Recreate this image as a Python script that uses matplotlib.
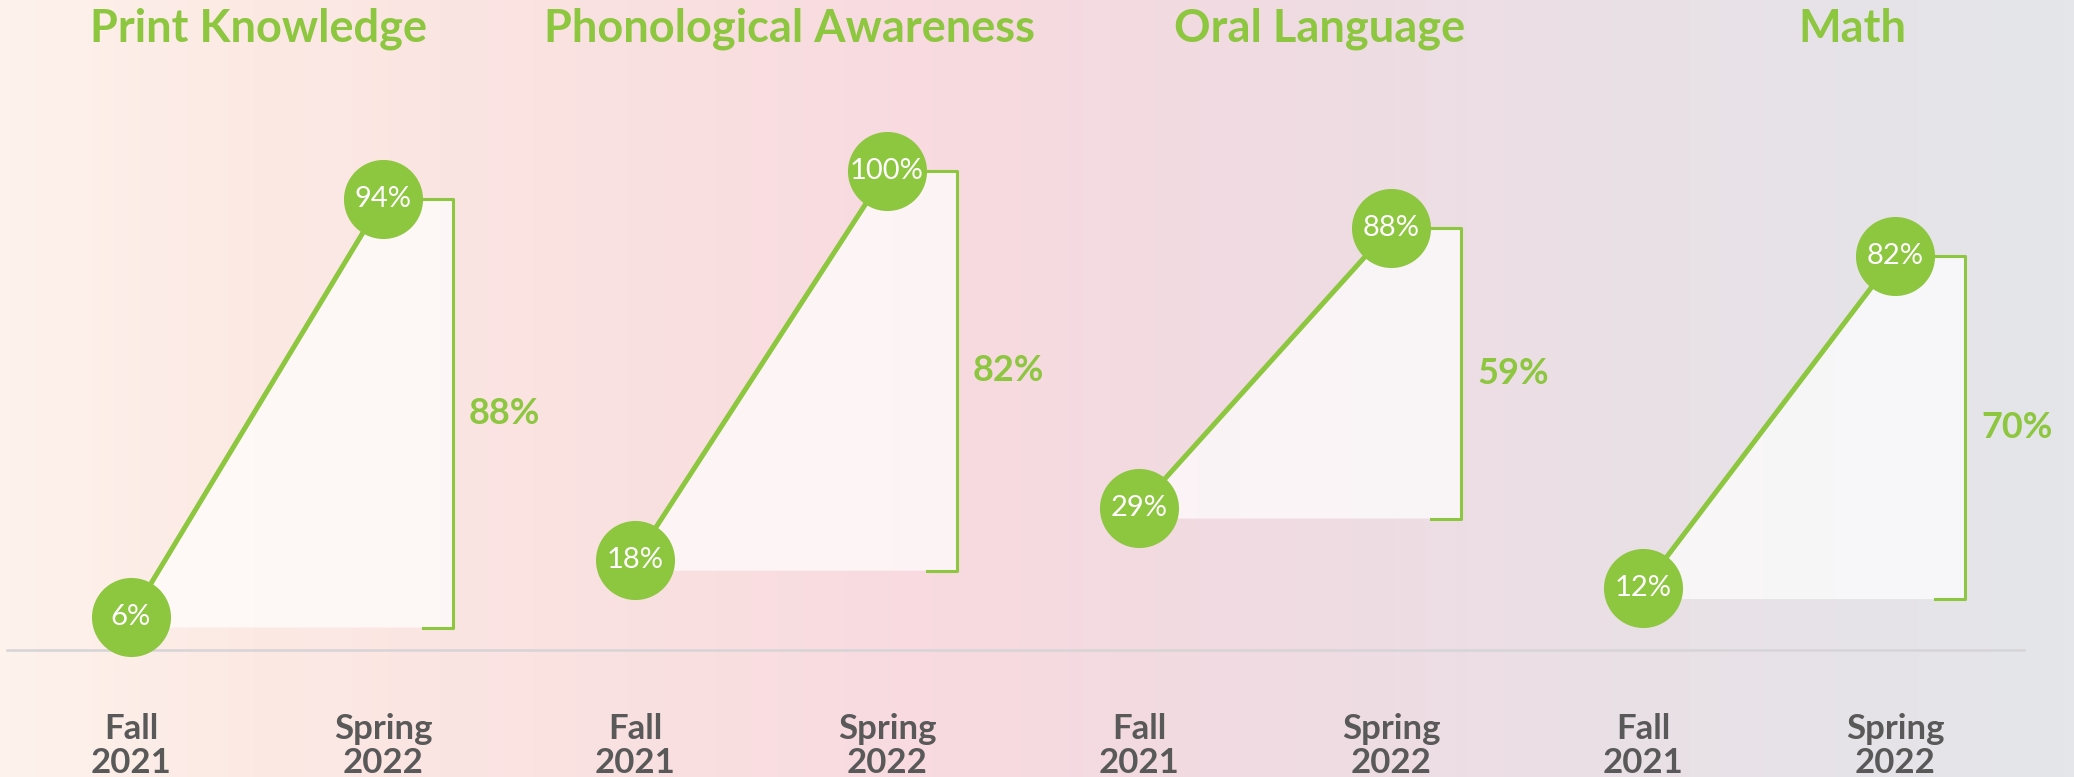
import matplotlib
matplotlib.use("Agg")
import matplotlib.pyplot as plt
import numpy as np
from matplotlib.colors import LinearSegmentedColormap

# data
subjects = ["Print Knowledge", "Phonological Awareness", "Oral Language", "Math"]
fall_2021 = [6, 18, 29, 12]
spring_2022 = [94, 100, 88, 82]
gains = [88, 82, 59, 70]
period_labels = ["Fall\n2021", "Spring\n2022"]

GREEN = "#8DC63F"
GRAY_TEXT = "#595959"
FONT = "Lato"

W, H, DPI = 2074, 777, 100
PX_PER_UNIT = 252.0   # horizontal px per x unit
PX_PER_PCT = 4.74     # vertical px per percent
X0_PX = 131           # px of first Fall point
Y0_PX = 645           # px (from top) of 0%

fig = plt.figure(figsize=(W / DPI, H / DPI), dpi=DPI)
ax = fig.add_axes([0, 0, 1, 1])
xmin, xmax = -X0_PX / PX_PER_UNIT, (W - X0_PX) / PX_PER_UNIT
ymin, ymax = -(H - Y0_PX) / PX_PER_PCT, Y0_PX / PX_PER_PCT
ax.set_xlim(xmin, xmax)
ax.set_ylim(ymin, ymax)
ax.axis("off")

# background gradient
bg = LinearSegmentedColormap.from_list("bg", [
    (0.00, "#FEF2EC"), (0.12, "#FCE9E4"), (0.30, "#FAE1E1"),
    (0.45, "#F8DAE0"), (0.60, "#F1DBE2"), (0.78, "#EAE0E6"),
    (1.00, "#E4E6EA")])
grad = np.linspace(0, 1, 400)[None, :]
ax.imshow(grad, cmap=bg, aspect="auto", extent=(xmin, xmax, ymin, ymax), zorder=0)

# baseline
ax.plot([(7 - X0_PX) / PX_PER_UNIT, (2024 - X0_PX) / PX_PER_UNIT],
        [-5 / PX_PER_PCT] * 2, color="#D6D4D6", lw=1.8, zorder=1)

br_off = 70 / PX_PER_UNIT
tick_off = 40 / PX_PER_UNIT
lab_off = 16 / PX_PER_UNIT
low_off = 11 / PX_PER_PCT   # bracket bottom sits a little under the Fall marker
title_x = [258, 790, 1320, 1852]

for i, (name, f, s, g) in enumerate(zip(subjects, fall_2021, spring_2022, gains)):
    xf, xs = 2 * i, 2 * i + 1
    xb = xs + br_off
    fb = f - low_off
    # shaded area under the line up to the bracket
    ax.fill([xf, xs, xb, xb, xf], [f, s, s, fb, fb], color="white", alpha=0.7,
            lw=0, zorder=2)
    ax.plot([xf, xs], [f, s], color=GREEN, lw=3.6, zorder=3, solid_capstyle="butt")
    # bracket
    ax.plot([xs + tick_off, xb, xb, xs + tick_off], [s, s, fb, fb],
            color=GREEN, lw=2.2, zorder=3)
    ax.text(xb + lab_off, (fb + s) / 2, f"{g}%", color=GREEN, fontsize=26,
            fontweight="bold", family=FONT, ha="left", va="center", zorder=5)
    # circles
    ax.scatter([xf, xs], [f, s], s=3240, color=GREEN, zorder=4, lw=0)
    for x, v in ((xf, f), (xs, s)):
        ax.text(x, v, f"{v}%", color="white", fontsize=21, family=FONT,
                ha="center", va="center", zorder=5)
    # period labels
    for x, lab in zip((xf, xs), period_labels):
        ax.text(x, -(746 - Y0_PX) / PX_PER_PCT, lab, color=GRAY_TEXT, fontsize=25,
                fontweight="bold", family=FONT, ha="center", va="center",
                linespacing=1.1, zorder=5)
    fig.text(title_x[i] / W, 1 - 29 / H, name, color=GREEN, fontsize=32.5,
             fontweight="bold", family=FONT, ha="center", va="center")

fig.savefig("out.png", dpi=DPI)
